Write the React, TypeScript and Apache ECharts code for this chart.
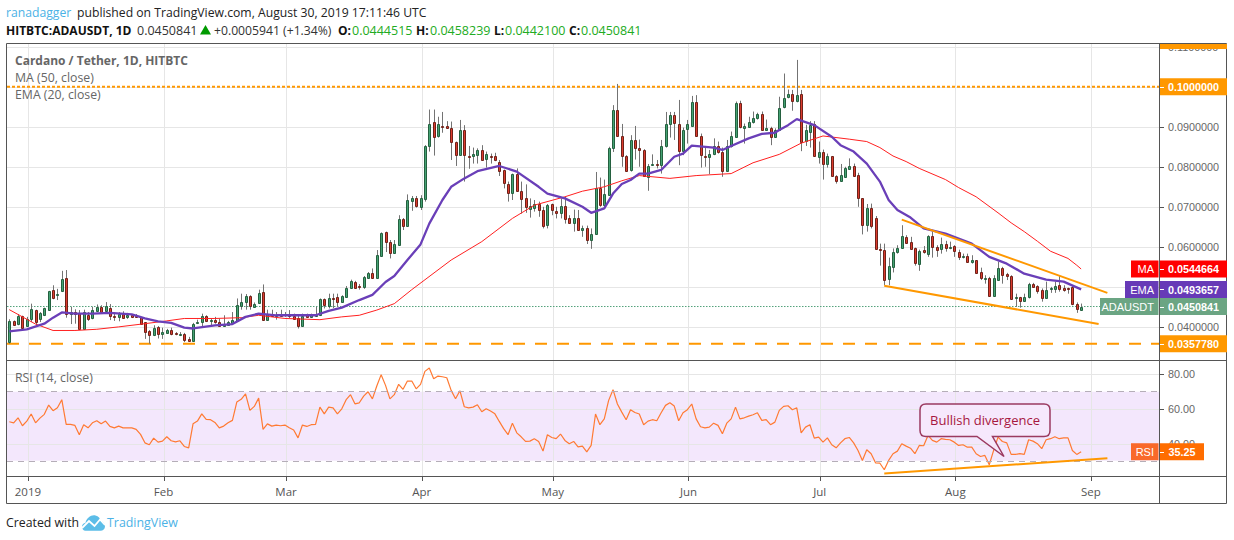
import React, { useEffect, useRef } from "react";
import * as echarts from "echarts";

// Prices below are in units of 0.0001 USDT: [open, close, low, high], one row per day from 28 Dec 2018
const PRICE_UNIT = 0.0001;
const ohlc: number[][] = [
[362,414,358,419],[414,404,403,416],[407,428,404,432],[426,397,396,428],[402,419,402,425],[419,444,412,458],[442,412,402,443],[421,435,412,437],[429,447,427,448],[442,489,441,490],
[491,470,469,504],[479,481,467,495],[488,519,487,540],[522,433,423,542],[434,438,407,450],[436,430,408,444],[434,394,393,442],[394,436,393,443],[430,419,415,437],[420,441,419,450],
[439,449,437,456],[449,437,433,454],[439,451,437,462],[448,427,417,457],[427,425,415,436],[425,433,414,437],[433,424,421,439],[424,429,420,435],[429,424,422,432],[427,425,423,432],
[424,407,405,425],[411,385,370,412],[389,379,358,392],[379,396,377,404],[399,381,371,402],[383,387,370,398],[385,393,383,395],[393,382,379,398],[384,381,379,387],[381,382,377,387],
[383,368,362,385],[369,365,364,375],[365,408,364,410],[410,413,407,418],[412,428,402,433],[428,415,412,429],[414,417,404,421],[418,412,408,425],[413,402,401,421],[402,406,401,429],
[405,412,403,415],[408,416,407,437],[415,455,413,471],[452,462,443,483],[460,476,443,482],[476,451,443,479],[450,458,450,461],[458,484,457,493],[487,418,415,506],[418,433,417,443],
[433,427,425,443],[427,430,418,437],[431,427,425,443],[428,431,425,437],[431,425,422,442],[427,420,418,433],[421,402,396,432],[402,427,401,433],[429,425,423,433],[425,429,423,433],
[427,429,427,450],[428,469,427,471],[469,455,446,471],[454,473,446,483],[473,472,447,483],[474,462,450,483],[462,477,460,479],[475,498,475,502],[497,514,496,518],[513,497,496,515],
[502,500,493,507],[499,524,495,527],[522,534,521,537],[534,522,521,546],[522,579,522,592],[577,634,575,636],[636,612,587,638],[613,585,571,617],[585,607,583,617],[604,669,603,679],
[669,652,642,672],[652,717,652,731],[713,721,690,727],[721,700,698,727],[700,723,692,729],[721,853,713,854],[853,908,838,943],[911,873,828,943],[875,906,873,925],[903,900,885,937],
[902,897,896,914],[898,863,817,913],[863,830,802,863],[830,893,829,917],[892,830,763,904],[828,827,795,852],[827,831,808,848],[830,842,808,846],[843,818,815,854],[818,831,798,838],
[828,825,808,833],[826,815,814,835],[813,790,777,817],[791,758,746,793],[758,735,713,763],[733,781,717,783],[781,738,738,796],[739,718,683,763],[721,698,685,756],[695,702,673,721],
[698,708,688,717],[708,694,675,713],[692,653,646,700],[653,704,646,707],[706,690,679,708],[689,685,671,700],[685,702,671,721],[702,670,658,725],[672,660,658,679],[660,672,638,693],
[672,643,642,692],[643,648,625,653],[648,617,607,653],[618,633,595,646],[633,748,633,787],[746,703,700,773],[703,731,700,768],[731,848,729,850],[848,943,837,954],[943,878,877,1007],
[878,828,800,907],[828,790,788,829],[790,866,788,879],[866,845,818,902],[846,840,800,868],[843,778,775,844],[775,803,740,807],[805,808,802,831],[806,803,796,817],[803,851,783,867],
[850,906,848,937],[906,929,873,937],[929,910,867,937],[908,840,804,967],[840,893,829,898],[893,906,858,917],[903,963,902,977],[963,877,875,979],[876,828,798,883],[828,825,800,848],
[825,833,782,842],[833,853,829,871],[853,838,833,863],[837,789,775,848],[789,851,788,867],[850,876,848,888],[875,959,873,963],[959,898,896,965],[895,901,858,908],[900,913,900,925],
[913,923,908,938],[922,932,918,935],[933,893,892,938],[892,898,890,918],[898,875,854,900],[875,893,873,896],[893,948,892,975],[948,971,946,1033],[973,981,971,993],[981,964,940,992],
[963,979,961,1067],[983,863,839,992],[864,892,852,905],[887,904,848,914],[906,825,825,914],[825,838,808,863],[838,808,768,843],[808,827,798,833],[826,775,775,827],[777,765,758,779],
[765,779,763,807],[775,798,773,800],[796,803,793,821],[803,778,777,808],[779,721,700,785],[721,654,631,721],[653,696,638,707],[698,652,646,708],[671,593,593,677],[594,591,553,608],
[592,518,504,608],[519,552,504,573],[550,587,536,596],[586,596,583,604],[598,628,596,654],[625,610,607,629],[613,596,596,625],[596,558,553,598],[558,590,540,593],[591,585,583,602],
[583,628,575,629],[628,600,573,638],[600,593,575,604],[594,606,583,623],[607,597,588,615],[598,600,594,613],[602,589,575,604],[588,575,567,593],[575,578,571,583],[578,563,563,583],
[563,567,558,579],[567,535,533,567],[536,520,517,548],[520,523,508,529],[523,478,478,525],[478,522,477,529],[518,548,517,563],[548,530,508,550],[532,526,517,535],[528,471,468,529],
[473,474,450,483],[474,465,448,475],[465,474,464,483],[473,506,471,510],[507,500,498,510],[502,490,483,504],[493,473,463,496],[473,493,471,513],[494,497,485,500],[495,502,485,513],
[504,495,488,527],[498,494,488,504],[498,497,483,498],[499,457,454,502],[458,446,435,461],[444.515,450.841,442.1,458.239],
];
const emaPoints: number[][] = [[0,389],[4,394],[8,408],[10,423],[12,436],[15,433],[19,433],[23,435],[28,431],[31,421],[34,414],[37,410],[40,398],[42,396],[47,404],[51,407],[54,425],[57,433],[61,429],[65,429],[70,429],[73,440],[76,448],[80,467],[83,480],[86,512],[88,527],[91,567],[94,606],[96,658],[99,717],[101,750],[104,771],[107,789],[112,802],[116,788],[121,750],[123,733],[127,721],[131,700],[133,685],[136,696],[138,733],[140,757],[142,767],[144,783],[146,783],[149,792],[152,825],[154,833],[156,853],[161,848],[163,842],[165,852],[169,871],[172,882],[175,885],[176,892],[178,904],[180,919],[184,904],[188,875],[190,854],[193,838],[196,808],[199,763],[201,717],[203,692],[206,673],[209,646],[214,633],[220,608],[224,575],[228,558],[232,533],[237,518],[241,513],[245,493.657]];
const maPoints: number[][] = [[0,443],[3,425],[6,407],[10,391],[15,391],[20,394],[25,400],[31,408],[36,415],[40,421],[47,421],[53,423],[57,429],[63,421],[71,418],[76,425],[80,429],[84,442],[88,458],[92,493],[101,567],[108,613],[115,671],[120,704],[127,725],[131,739],[136,750],[140,765],[144,778],[151,771],[157,778],[165,783],[170,810],[176,831],[181,859],[186,877],[192,869],[196,863],[199,848],[202,827],[205,813],[208,796],[214,768],[217,748],[221,725],[226,685],[229,660],[232,638],[235,614],[238,589],[242,571],[244,554],[245,544.664]];
const rsiValues: number[] = [
52.6,52.0,54.9,50.3,53.0,57.1,52.0,54.7,56.9,62.3,59.0,60.7,65.4,51.1,51.1,50.5,45.1,50.9,49.1,52.0,
53.2,51.4,53.0,49.9,49.1,50.1,49.1,49.1,49.1,48.2,45.3,40.4,39.3,43.1,40.8,41.4,43.9,41.6,41.0,41.6,
38.3,37.5,51.4,53.0,57.2,54.0,53.8,52.2,49.1,50.1,52.0,53.4,64.0,65.6,68.8,59.2,61.5,66.3,48.2,51.4,
50.1,50.7,50.3,50.7,49.1,47.8,43.3,50.7,49.9,50.9,51.1,61.1,57.2,61.1,60.7,57.2,60.1,65.4,68.3,63.0,
63.6,67.5,70.0,65.9,73.3,79.9,73.7,65.9,68.3,74.3,71.4,76.2,76.2,71.7,74.3,81.8,83.7,77.5,79.1,78.7,
78.1,70.8,65.9,70.6,61.3,60.7,61.1,62.5,58.4,60.1,58.8,57.2,52.8,48.6,45.1,51.8,46.2,43.9,41.2,41.4,
42.8,41.2,35.6,45.1,43.5,42.8,45.5,41.8,39.9,41.2,38.1,38.5,35.2,38.9,57.1,50.9,54.3,65.0,71.2,62.9,
58.2,53.8,59.6,58.0,57.1,50.9,53.0,53.8,53.2,57.8,62.1,63.6,61.7,53.2,57.8,59.6,62.9,54.3,49.7,49.1,
49.5,51.8,50.5,45.7,51.8,54.3,61.1,54.3,54.9,55.9,56.7,57.8,53.4,53.8,50.9,52.4,59.2,61.5,61.9,59.6,
60.7,46.2,49.5,50.9,43.1,43.7,40.8,43.3,39.3,37.5,40.4,42.8,43.5,40.4,36.0,30.2,36.4,34.1,28.8,28.6,
24.8,30.2,34.1,35.6,39.9,38.5,37.3,34.1,38.9,38.7,44.7,41.8,40.8,42.8,42.4,42.2,40.8,38.9,39.3,37.9,
37.9,34.1,32.5,33.1,27.7,36.0,43.7,41.2,40.4,33.7,33.7,34.1,33.7,42.2,41.4,39.9,37.0,42.2,42.8,43.9,
42.8,43.3,43.3,36.0,33.7,35.25,
];
const upperTrend = [[204, 668], [251, 485]];
const lowerTrend = [[200, 503], [249, 407]];
const rsiTrend = [[200, 22.7], [251, 31.5]];
const monthTicks = [4.25, 35.25, 63.25, 94.25, 124.25, 155.25, 185.25, 216.25, 247.25];
const monthLabels = ["2019", "Feb", "Mar", "Apr", "May", "Jun", "Jul", "Aug", "Sep"];
const priceGrid = [0.04, 0.05, 0.06, 0.07, 0.08, 0.09, 0.1, 0.11];
const priceLabels = [0.04, 0.06, 0.07, 0.08, 0.09, 0.11];
const rsiTicks = [40, 60, 80];
const resistance = 0.1;
const support = 0.035778;
const lastPrice = 0.0450841;
const lastMa = 0.0544664;
const lastEma = 0.0493657;
const lastRsi = 35.25;
const xMin = -0.526;
const xMax = 262.8;

const SANS = '"Open Sans", "Noto Sans", sans-serif';
const AXISFONT = '"Liberation Sans", Arial, sans-serif';
const ORANGE = "#ff9800";
const GRIDCOL = "#e6e6e6";

echarts.graphic.registerShape(
  "tvcloud",
  echarts.graphic.extendPath(
    "M1 12.5C1 10.5 2.5 9 4.5 8.7C5.6 4 10 0.5 14.5 1.5C17.5 2.2 19.3 4.3 19.6 7C22.2 7.3 24 9.5 24 12.2C24 15 22 16.8 19.5 16.8L4.5 16.8C2.4 16.8 1 14.8 1 12.5Z",
    {}
  )
);
echarts.graphic.registerShape(
  "callout",
  echarts.graphic.extendPath(
    "M6 0L124 0Q130 0 130 6L130 26.5Q130 32.5 124 32.5L72.5 32.5L84 52.5L57 32.5L6 32.5Q0 32.5 0 26.5L0 6Q0 0 6 0Z",
    {}
  )
);

function renderCandle(params: any, api: any) {
  const i = api.value(0);
  const o = api.value(1);
  const c = api.value(2);
  const lo = api.value(3);
  const hi = api.value(4);
  const px = Math.round(api.coord([i, o])[0]);
  const yO = api.coord([i, o])[1];
  const yC = api.coord([i, c])[1];
  const yL = api.coord([i, lo])[1];
  const yH = api.coord([i, hi])[1];
  const up = c >= o;
  const top = Math.round(Math.min(yO, yC)) + 0.5;
  const h = Math.max(1, Math.round(Math.abs(yO - yC)));
  return {
    type: "group",
    children: [
      {
        type: "line",
        shape: { x1: px + 0.5, y1: yH, x2: px + 0.5, y2: yL },
        style: { stroke: "#737373", lineWidth: 1 },
      },
      {
        type: "rect",
        shape: { x: px - 0.5, y: top, width: 2, height: h },
        style: {
          fill: up ? "#45a273" : "#dc3b2e",
          stroke: up ? "#24603f" : "#6e2219",
          lineWidth: 1,
        },
      },
    ],
  };
}

function buildGraphic(chart: any) {
  const yP = (v: number) => chart.convertToPixel({ yAxisIndex: 0 }, v);
  const yR = (v: number) => chart.convertToPixel({ yAxisIndex: 1 }, v);
  const xD = (v: number) => chart.convertToPixel({ xAxisIndex: 0 }, v);
  const els: any[] = [];
  const txt = (text: string, x: number, y: number, fill: string, font: string, align = "left") =>
    els.push({ type: "text", z: 30, style: { text, x, y, fill, font, align, verticalAlign: "middle" } });
  const rect = (x: number, y: number, w: number, h: number, fill: string, z = 25) =>
    els.push({ type: "rect", z, shape: { x, y, width: w, height: h }, style: { fill } });
  const hline = (x1: number, x2: number, y: number, stroke: string, z = 26) =>
    els.push({ type: "line", z, shape: { x1, y1: y, x2, y2: y }, style: { stroke, lineWidth: 1 } });
  const vline = (x: number, y1: number, y2: number, stroke: string, z = 26) =>
    els.push({ type: "line", z, shape: { x1: x, y1, x2: x, y2 }, style: { stroke, lineWidth: 1 } });

  // Grid lines and axis ticks, placed through the axis scales
  monthTicks.forEach((t) => {
    const x = Math.round(xD(t)) + 0.5;
    vline(x, 44, 360, GRIDCOL, 1);
    vline(x, 361, 476, GRIDCOL, 1);
    vline(x, 477, 481, "#555", 20);
  });
  priceGrid.forEach((v) => {
    const y = Math.round(yP(v)) + 0.5;
    hline(7, 1159, y, GRIDCOL, 1);
    hline(1160, 1164, y, "#555", 20);
  });
  rsiTicks.forEach((v) => {
    const y = Math.round(yR(v)) + 0.5;
    hline(7, 1159, y, GRIDCOL, 1);
    hline(1160, 1164, y, "#555", 20);
  });

  // Frame
  els.push({ type: "rect", z: 20, shape: { x: 6.5, y: 43.5, width: 1220, height: 460 }, style: { fill: "none", stroke: "#555", lineWidth: 1 } });
  hline(6.5, 1226.5, 360.5, "#555", 20);
  hline(6.5, 1226.5, 476.5, "#555", 20);
  vline(1159.5, 43.5, 503.5, "#555", 20);

  // Header
  const head = "12.2px " + SANS;
  const num = "12.5px " + SANS;
  const headB = "bold 12px " + SANS;
  txt("ranadagger", 6, 12, "#4bb2e6", head);
  txt("published on TradingView.com, August 30, 2019 17:11:46 UTC", 77, 12, "#222", head);
  txt("HITBTC:ADAUSDT, 1D", 6, 30, "#111", headB);
  txt("0.0450841", 137, 30, "#333", num);
  els.push({ type: "polygon", z: 30, shape: { points: [[200, 34.5], [205.5, 25], [211, 34.5]] }, style: { fill: "#009a00" } });
  txt("+0.0005941 (+1.34%)", 214, 30, "#333", head);
  txt("O:", 338, 30, "#111", headB);
  txt("0.0444515", 352, 30, "#22ab22", num);
  txt("H:", 416, 30, "#111", headB);
  txt("0.0458239", 430, 30, "#22ab22", num);
  txt("L:", 494, 30, "#111", headB);
  txt("0.0442100", 505, 30, "#22ab22", num);
  txt("C:", 569, 30, "#111", headB);
  txt("0.0450841", 581, 30, "#22ab22", num);

  // Pane titles
  txt("Cardano / Tether, 1D, HITBTC", 15, 60.5, "#666", "bold 12px " + SANS);
  txt("MA (50, close)", 15, 77.5, "#666", "12.3px " + SANS);
  txt("EMA (20, close)", 15, 94.5, "#666", "12.3px " + SANS);
  txt("RSI (14, close)", 15, 377.5, "#666", "12.3px " + SANS);

  // Price tags
  const vf = "bold 10.8px " + AXISFONT;
  const nf = "11px " + AXISFONT;
  rect(1160, 44, 67, 5, ORANGE);
  const tag = (val: number, col: string, label?: string, labelX?: number, labelCol?: string) => {
    const y = yP(val);
    rect(1160, y - 8.5, 67, 17, col);
    hline(1160, 1164, Math.round(y) + 0.5, "#fff");
    txt(val.toFixed(7), 1193.5, y + 0.5, "#fff", vf, "center");
    if (label) {
      rect(labelX as number, y - 8.5, 1158.5 - (labelX as number), 17, labelCol || col);
      txt(label, 1154, y + 0.5, "#fff", nf, "right");
    }
  };
  tag(resistance, ORANGE);
  tag(lastMa, "#ff0000", "MA", 1131);
  tag(lastEma, "#673ab7", "EMA", 1125);
  tag(lastPrice, "#6ba583", "ADAUSDT", 1100);
  tag(support, ORANGE);

  // RSI tag
  const yRsi = yR(lastRsi);
  rect(1131, yRsi - 8.5, 27.5, 17, "#f9692a");
  txt("RSI", 1154, yRsi + 0.5, "#fff", nf, "right");
  rect(1160, yRsi - 8.5, 44, 17, "#ff6d00");
  hline(1160, 1164, Math.round(yRsi) + 0.5, "#fff");
  txt(lastRsi.toFixed(2), 1182, yRsi + 0.5, "#fff", vf, "center");

  // Callout
  els.push({ type: "callout", z: 27, x: 920, y: 404, style: { fill: "rgba(245,232,252,0.95)", stroke: "#9b3a60", lineWidth: 1.5 } });
  txt("Bullish divergence", 985, 419.5, "#a6173f", "13px " + SANS, "center");

  // Footer
  txt("Created with", 6, 522, "#222", "12.3px " + SANS);
  els.push({ type: "tvcloud", z: 27, x: 81, y: 514, style: { fill: "#5cbde8" } });
  els.push({ type: "polyline", z: 28, shape: { points: [[82, 528], [89, 521], [94.5, 526], [100, 519.5], [105, 525]] }, style: { fill: "none", stroke: "#fff", lineWidth: 1.8 } });
  txt("TradingView", 107, 522, "#4bb2e6", "12.4px " + SANS);
  return els;
}

export default function App() {
  const ref = useRef<HTMLDivElement>(null);
  useEffect(() => {
    document.body.style.margin = "0";
    const chart = echarts.init(ref.current as HTMLDivElement, undefined, { renderer: "svg" });
    const scale = (pts: number[][]) => pts.map((p) => [p[0], p[1] * PRICE_UNIT]);
    const level = (v: number) => [[xMin, v], [xMax, v]];
    const xCommon = {
      type: "value",
      min: xMin,
      max: xMax,
      axisLine: { show: false },
      axisTick: { show: false },
      splitLine: { show: false },
    };
    const option: any = {
      animation: false,
      backgroundColor: "#fff",
      grid: [
        { left: 7, top: 43.5, width: 1152, height: 317 },
        { left: 7, top: 360.5, width: 1152, height: 116 },
      ],
      xAxis: [
        { ...xCommon, gridIndex: 0, axisLabel: { show: false, customValues: monthTicks } },
        {
          ...xCommon,
          gridIndex: 1,
          axisLabel: {
            show: true,
            customValues: monthTicks,
            color: "#555",
            fontSize: 11.5,
            fontFamily: SANS,
            margin: 9,
            formatter: (v: number) => monthLabels[monthTicks.indexOf(v)] || "",
          },
        },
      ],
      yAxis: [
        {
          type: "value",
          gridIndex: 0,
          position: "right",
          min: 0.0316,
          max: 0.1108,
          axisLine: { show: false },
          axisTick: { show: false },
          axisLabel: { customValues: priceLabels, color: "#666", fontSize: 10.8, fontFamily: AXISFONT, margin: 9, formatter: (v: number) => v.toFixed(7) },
          splitLine: { show: false },
        },
        {
          type: "value",
          gridIndex: 1,
          position: "right",
          min: 20.9,
          max: 88.1,
          axisLine: { show: false },
          axisTick: { show: false },
          axisLabel: { customValues: rsiTicks, color: "#666", fontSize: 10.8, fontFamily: AXISFONT, margin: 9, formatter: (v: number) => v.toFixed(2) },
          splitLine: { show: false },
        },
      ],
      series: [
        { type: "line", name: "resistance", data: level(resistance), showSymbol: false, silent: true, lineStyle: { color: ORANGE, width: 2, type: [3, 2] }, z: 2 },
        { type: "line", name: "support", data: level(support), showSymbol: false, silent: true, lineStyle: { color: ORANGE, width: 2, type: [12, 10] }, z: 2 },
        { type: "line", name: "last", data: level(lastPrice), showSymbol: false, silent: true, lineStyle: { color: "#53a17a", width: 1, type: [1.5, 1.5] }, z: 2 },
        {
          type: "custom",
          name: "ADAUSDT",
          xAxisIndex: 0,
          yAxisIndex: 0,
          renderItem: renderCandle,
          encode: { x: 0, y: [1, 2, 3, 4] },
          data: ohlc.map((r, i) => [i, r[0] * PRICE_UNIT, r[1] * PRICE_UNIT, r[2] * PRICE_UNIT, r[3] * PRICE_UNIT]),
          z: 3,
        },
        { type: "line", name: "MA", xAxisIndex: 0, yAxisIndex: 0, data: scale(maPoints), showSymbol: false, lineStyle: { color: "#ff2020", width: 1 }, z: 4 },
        { type: "line", name: "EMA", xAxisIndex: 0, yAxisIndex: 0, data: scale(emaPoints), showSymbol: false, lineStyle: { color: "#6a3fb8", width: 2.3 }, z: 5 },
        { type: "line", name: "upper", xAxisIndex: 0, yAxisIndex: 0, data: scale(upperTrend), showSymbol: false, lineStyle: { color: ORANGE, width: 2 }, z: 6 },
        { type: "line", name: "lower", xAxisIndex: 0, yAxisIndex: 0, data: scale(lowerTrend), showSymbol: false, lineStyle: { color: ORANGE, width: 2 }, z: 6 },
        {
          type: "line",
          name: "RSI",
          xAxisIndex: 1,
          yAxisIndex: 1,
          data: rsiValues.map((v, i) => [i, v]),
          showSymbol: false,
          lineStyle: { color: "#ff7a33", width: 1.2 },
          z: 4,
          markArea: {
            silent: true,
            itemStyle: { color: "rgba(149,39,230,0.11)" },
            data: [[{ yAxis: 70 }, { yAxis: 30 }]],
          },
          markLine: {
            silent: true,
            symbol: "none",
            label: { show: false },
            lineStyle: { color: "#b5aeb8", width: 1, type: [6, 5] },
            data: [{ yAxis: 70 }, { yAxis: 30 }],
          },
        },
        { type: "line", name: "rsiTrend", xAxisIndex: 1, yAxisIndex: 1, data: rsiTrend, showSymbol: false, lineStyle: { color: ORANGE, width: 2 }, z: 6 },
      ],
    };
    chart.setOption(option);
    chart.setOption({ graphic: { elements: buildGraphic(chart) } });
    return () => chart.dispose();
  }, []);
  return <div ref={ref} style={{ position: "absolute", left: 0, top: 0, width: 1234, height: 540 }} />;
}
